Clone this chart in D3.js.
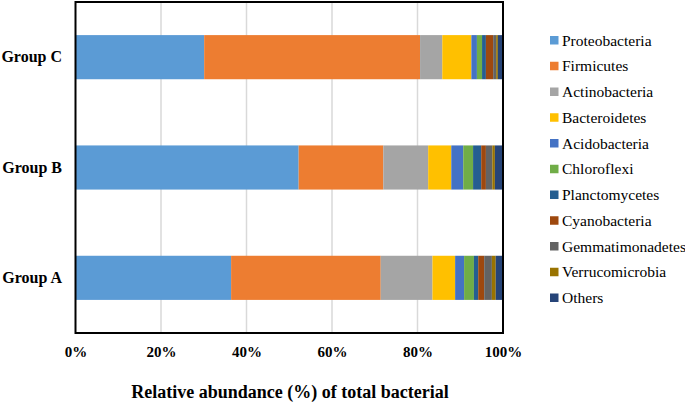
<!DOCTYPE html>
<html><head><meta charset="utf-8">
<script src="https://cdn.jsdelivr.net/npm/d3@7"></script>
<style>body{margin:0;background:#fff}svg{display:block;font-family:"Liberation Serif","Times New Roman",serif}</style>
</head><body><svg id="c" width="685" height="404"></svg>
<script>
const groups = ["Group C", "Group B", "Group A"];
const phyla = ["Proteobacteria","Firmicutes","Actinobacteria","Bacteroidetes","Acidobacteria","Chloroflexi","Planctomycetes","Cyanobacteria","Gemmatimonadetes","Verrucomicrobia","Others"];
const colors = ["#5B9BD5","#ED7D31","#A5A5A5","#FFC000","#4472C4","#70AD47","#255E91","#9E480E","#636363","#997300","#264478"];
// relative abundance (%) per group, in phyla order
const groupC = [30.1, 50.5, 5.2, 6.8, 1.3, 1.2, 0.9, 1.7, 0.7, 0.4, 1.2];
const groupB = [52.2, 19.8, 10.5, 5.4, 2.8, 2.3, 1.9, 1.1, 1.5, 0.6, 1.9];
const groupA = [36.4, 35.0, 12.1, 5.3, 2.1, 2.3, 1.0, 1.4, 1.8, 0.9, 1.7];
const xTicks = [0, 20, 40, 60, 80, 100];

const values = {"Group C": groupC, "Group B": groupB, "Group A": groupA};
const svg = d3.select("#c");
const L = 75.5, R = 503, T = 2, B = 333;
const x = d3.scaleLinear().domain([0,100]).range([L,R]);
const y = d3.scaleBand().domain(groups).range([T,B]).paddingInner(0.6).paddingOuter(0.3);

// gridlines
svg.append("g").selectAll("line").data(xTicks.slice(1,-1)).join("line")
  .attr("x1",d=>x(d)).attr("x2",d=>x(d)).attr("y1",T).attr("y2",B)
  .attr("stroke","#d9d9d9").attr("stroke-width",1.5);

// bars
const stackData = groups.map(g => {
  const o = {group:g}; phyla.forEach((p,i)=>o[p]=values[g][i]); return o;
});
const series = d3.stack().keys(phyla)(stackData);
svg.append("g").selectAll("g").data(series).join("g")
  .attr("fill",(d,i)=>colors[i])
  .selectAll("rect").data(d=>d).join("rect")
  .attr("x",d=>x(d[0])).attr("width",d=>x(d[1])-x(d[0]))
  .attr("y",d=>y(d.data.group)).attr("height",y.bandwidth());

// frame
svg.append("rect").attr("x",L).attr("y",T).attr("width",R-L).attr("height",B-T)
  .attr("fill","none").attr("stroke","#000").attr("stroke-width",2);

// x axis labels
const xa = svg.append("g").attr("transform",`translate(0,${B})`)
  .call(d3.axisBottom(x).tickValues(xTicks).tickFormat(d=>d+"%").tickSize(0).tickPadding(13));
xa.select(".domain").remove();
xa.attr("font-family",null);
xa.selectAll("text").attr("font-size",15).attr("font-weight","bold").attr("fill","#000");

// y axis labels
const ya = svg.append("g").attr("transform",`translate(${L},0)`)
  .call(d3.axisLeft(y).tickSize(0).tickPadding(13.5));
ya.select(".domain").remove();
ya.attr("font-family",null);
ya.selectAll("text").attr("font-size",16).attr("font-weight","bold").attr("fill","#000");

// axis title
svg.append("text").attr("x",290).attr("y",398).attr("text-anchor","middle")
  .attr("font-size",18).attr("font-weight","bold").text("Relative abundance (%) of total bacterial");

// legend
const lg = svg.append("g").selectAll("g").data(phyla).join("g")
  .attr("transform",(d,i)=>`translate(550,${40+i*25.75})`);
lg.append("rect").attr("x",0).attr("y",-4).attr("width",8.5).attr("height",8.5).attr("fill",(d,i)=>colors[i]);
lg.append("text").attr("x",12).attr("y",5.5).attr("font-size",15.5).attr("fill","#000").text(d=>d);
</script></body></html>
